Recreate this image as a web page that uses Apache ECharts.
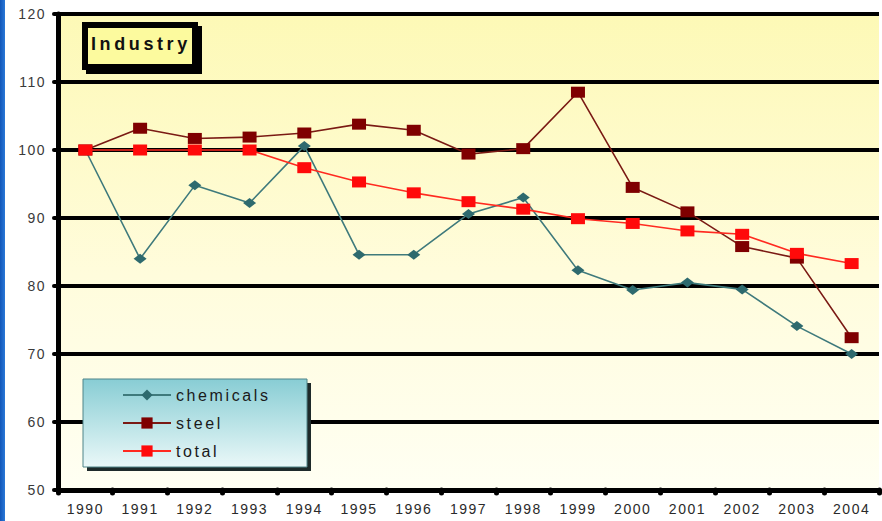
<!DOCTYPE html>
<html>
<head>
<meta charset="utf-8">
<style>
  html, body { margin: 0; padding: 0; background: #ffffff; }
  #wrap { position: relative; width: 882px; height: 521px; overflow: hidden; }
  #chart { position: absolute; left: 0; top: 0; width: 882px; height: 521px; }
  #edge { position: absolute; left: 0; top: 0; width: 5px; height: 521px;
          background: linear-gradient(to right, #1256b8, #2a78d8); }
  /* wide tracking of the labels */
  #chart text[style*="14px"] { letter-spacing: 1.5px; }
  #chart text[style*="16px"] { letter-spacing: 2.6px; }
  #chart text[style*="18px"] { letter-spacing: 3.6px; }
</style>
<script src="https://cdn.jsdelivr.net/npm/echarts@6/dist/echarts.min.js"></script>
</head>
<body>
<div id="wrap">
  <div id="chart"></div>
  <div id="edge"></div>
</div>
<script>
// Index values, 1990 = 100
const years = ['1990','1991','1992','1993','1994','1995','1996','1997','1998','1999','2000','2001','2002','2003','2004'];
const chemicals = [100, 84.0, 94.8, 92.2, 100.6, 84.6, 84.6, 90.6, 93.0, 82.3, 79.4, 80.5, 79.5, 74.1, 70.0];
const steel     = [100, 103.2, 101.7, 101.9, 102.5, 103.8, 102.9, 99.4, 100.2, 108.5, 94.5, 90.9, 85.8, 84.1, 72.4];
const total     = [100, 100, 100, 100, 97.4, 95.3, 93.7, 92.4, 91.3, 89.9, 89.2, 88.1, 87.6, 84.8, 83.3];
const yTicks    = { min: 50, max: 120, step: 10 };

const chart = echarts.init(document.getElementById('chart'), null, { renderer: 'svg' });

const legendBox = { x: 83, y: 379, w: 224, h: 88 };
const titleBox  = { x: 85, y: 25, w: 110, h: 42 };

chart.setOption({
  backgroundColor: '#ffffff',
  animation: false,
  grid: {
    left: 58, right: 3, top: 14, bottom: 31,
    show: true,
    borderWidth: 0,
    backgroundColor: {
      type: 'linear', x: 0, y: 0, x2: 0, y2: 1,
      colorStops: [
        { offset: 0, color: '#fdf9b6' },
        { offset: 0.55, color: '#fffcdc' },
        { offset: 1, color: '#fffff3' }
      ]
    }
  },
  xAxis: {
    type: 'category',
    data: years,
    boundaryGap: true,
    axisLine: { show: true, lineStyle: { color: '#000', width: 5 } },
    axisTick: { show: true, length: 3, lineStyle: { color: '#000', width: 5, cap: 'round' } },
    axisLabel: { color: '#2a2a2a', fontSize: 14, fontFamily: 'Liberation Sans', margin: 12 },
    splitLine: { show: false }
  },
  yAxis: {
    type: 'value',
    min: yTicks.min, max: yTicks.max, interval: yTicks.step,
    axisLine: { show: true, lineStyle: { color: '#000', width: 5 } },
    axisTick: { show: true, length: 4, lineStyle: { color: '#000', width: 4, cap: 'round' } },
    axisLabel: { color: '#3a3a3a', fontSize: 14, fontFamily: 'Liberation Sans', margin: 12 },
    splitLine: { show: true, lineStyle: { color: '#000', width: 4 } }
  },
  legend: {
    orient: 'vertical',
    left: 122, top: 387,
    padding: 0,
    itemWidth: 48, itemHeight: 14, itemGap: 12,
    z: 6,
    textStyle: { color: '#1a1a1a', fontSize: 16, fontFamily: 'Liberation Sans' },
    data: ['chemicals', 'steel', 'total']
  },
  graphic: [
    // legend panel: hard shadow, then gradient face
    { type: 'rect', z: 3, silent: true,
      shape: { x: legendBox.x + 4, y: legendBox.y + 4, width: legendBox.w, height: legendBox.h },
      style: { fill: '#1e2a2a' } },
    { type: 'rect', z: 3, silent: true,
      shape: { x: legendBox.x, y: legendBox.y, width: legendBox.w, height: legendBox.h },
      style: {
        fill: { type: 'linear', x: 0, y: 0, x2: 0, y2: 1,
          colorStops: [ { offset: 0, color: '#88cdd4' }, { offset: 1, color: '#eaf8f8' } ] },
        stroke: '#4f8488', lineWidth: 1
      } },
    // title panel
    { type: 'rect', z: 3, silent: true,
      shape: { x: titleBox.x + 4, y: titleBox.y + 4, width: titleBox.w, height: titleBox.h },
      style: { fill: '#000', stroke: '#000', lineWidth: 6 } },
    { type: 'rect', z: 3, silent: true,
      shape: { x: titleBox.x, y: titleBox.y, width: titleBox.w, height: titleBox.h },
      style: { fill: '#fcfa9e', stroke: '#000', lineWidth: 6 } },
    { type: 'text', z: 4, silent: true,
      x: titleBox.x + 6, y: titleBox.y + 19,
      style: { text: 'Industry', fill: '#111', font: 'bold 18px "Liberation Sans"',
               textVerticalAlign: 'middle', verticalAlign: 'middle' } }
  ],
  series: [
    {
      name: 'chemicals', type: 'line', data: chemicals,
      symbol: 'diamond', symbolSize: [13, 10],
      itemStyle: { color: '#2e6a6e' },
      lineStyle: { color: '#3f7a7c', width: 1.6 },
      z: 2
    },
    {
      name: 'steel', type: 'line', data: steel,
      symbol: 'rect', symbolSize: [14, 11],
      itemStyle: { color: '#7f0000' },
      lineStyle: { color: '#7a1a14', width: 1.6 },
      z: 3
    },
    {
      name: 'total', type: 'line', data: total,
      symbol: 'rect', symbolSize: [14, 11],
      itemStyle: { color: '#ff0a0a' },
      lineStyle: { color: '#ff2a20', width: 1.6 },
      z: 4
    }
  ]
});
</script>
</body>
</html>
